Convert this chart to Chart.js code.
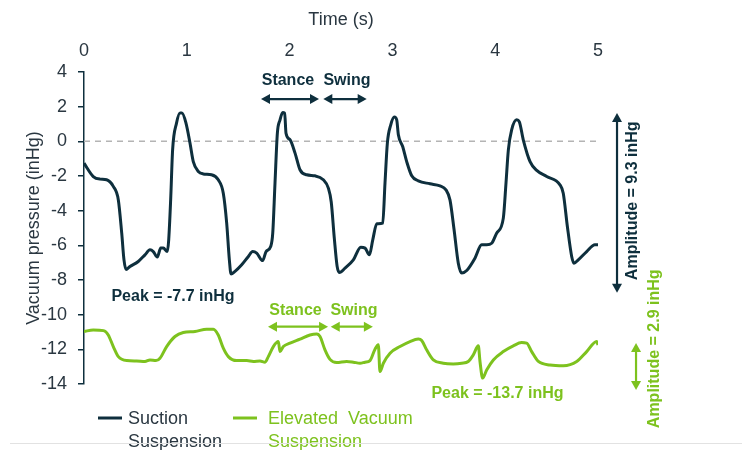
<!DOCTYPE html>
<html>
<head>
<meta charset="utf-8">
<script src="https://cdn.jsdelivr.net/npm/chart.js@4.4.0/dist/chart.umd.min.js"></script>
<style>
  body { margin: 0; background: #fff; }
  canvas { display: block; }
</style>
</head>
<body>
<canvas id="myChart" width="742" height="450"></canvas>
<script>
// data (time in s, pressure in inHg)
const timeTicks = [0, 1, 2, 3, 4, 5];
const suctionTime = [0, 0.09, 0.156, 0.22, 0.285, 0.334, 0.367, 0.389, 0.409, 0.447, 0.528, 0.593, 0.642, 0.674, 0.713, 0.746, 0.772, 0.81, 0.824, 0.843, 0.862, 0.9, 0.934, 0.953, 0.992, 1.031, 1.063, 1.112, 1.16, 1.24, 1.306, 1.355, 1.388, 1.414, 1.43, 1.469, 1.534, 1.599, 1.641, 1.68, 1.738, 1.771, 1.816, 1.836, 1.858, 1.881, 1.907, 1.933, 1.952, 1.965, 2.004, 2.053, 2.101, 2.166, 2.247, 2.328, 2.377, 2.405, 2.435, 2.462, 2.484, 2.539, 2.62, 2.692, 2.734, 2.776, 2.809, 2.848, 2.906, 2.928, 2.951, 2.984, 3.019, 3.042, 3.058, 3.1, 3.139, 3.188, 3.252, 3.366, 3.463, 3.521, 3.56, 3.6, 3.641, 3.674, 3.723, 3.803, 3.868, 3.917, 3.966, 4.014, 4.079, 4.105, 4.128, 4.16, 4.209, 4.234, 4.273, 4.339, 4.404, 4.501, 4.63, 4.662, 4.702, 4.744, 4.766, 4.808, 4.89, 4.97, 5.0];
const suctionPressure = [-1.26, -2.03, -2.18, -2.22, -2.6, -3.38, -5.3, -6.84, -7.4, -7.22, -6.93, -6.55, -6.26, -6.36, -6.68, -6.16, -6.16, -6.36, -5.68, -3.38, -0.49, 1.05, 1.63, 1.63, 1.05, -0.1, -1.17, -1.74, -1.88, -1.93, -2.22, -2.99, -4.72, -6.84, -7.65, -7.5, -7.12, -6.64, -6.36, -6.45, -6.88, -6.36, -6.07, -5.3, -2.41, 0.47, 1.24, 1.66, 1.63, 0.47, 0.09, -0.68, -1.64, -1.93, -1.99, -2.22, -2.7, -3.5, -5.6, -7.2, -7.57, -7.32, -6.84, -6.11, -6.16, -6.55, -5.68, -4.76, -4.72, -2.41, -0.1, 0.95, 1.4, 1.24, 0.38, -0.3, -1.17, -1.99, -2.28, -2.45, -2.57, -2.8, -3.38, -5.1, -7.03, -7.6, -7.45, -6.74, -5.97, -5.97, -5.88, -5.3, -4.43, -2.41, -0.49, 0.66, 1.24, 1.14, 0.09, -1.17, -1.68, -2.03, -2.51, -2.99, -4.91, -6.64, -7.03, -6.84, -6.36, -5.97, -5.97];
const vacuumTime = [0, 0.09, 0.19, 0.236, 0.285, 0.334, 0.415, 0.512, 0.593, 0.642, 0.7, 0.739, 0.804, 0.885, 0.966, 1.08, 1.193, 1.258, 1.306, 1.355, 1.404, 1.485, 1.583, 1.647, 1.712, 1.761, 1.793, 1.842, 1.89, 1.907, 1.939, 2.004, 2.101, 2.198, 2.263, 2.296, 2.344, 2.393, 2.458, 2.555, 2.62, 2.685, 2.734, 2.782, 2.831, 2.863, 2.879, 2.912, 2.977, 3.074, 3.171, 3.252, 3.285, 3.333, 3.398, 3.495, 3.592, 3.674, 3.738, 3.787, 3.836, 3.852, 3.878, 3.917, 3.982, 4.079, 4.176, 4.257, 4.306, 4.355, 4.42, 4.534, 4.663, 4.793, 4.89, 4.987, 5.0];
const vacuumPressure = [-10.97, -10.88, -10.92, -11.17, -11.84, -12.42, -12.65, -12.67, -12.7, -12.61, -12.65, -12.51, -11.84, -11.26, -11.03, -10.97, -10.84, -10.84, -11.17, -11.93, -12.42, -12.65, -12.65, -12.7, -12.67, -12.74, -12.42, -11.84, -11.55, -12.13, -11.84, -11.64, -11.41, -11.17, -11.11, -11.26, -12.03, -12.58, -12.76, -12.7, -12.74, -12.8, -12.74, -12.65, -11.99, -11.74, -13.28, -12.8, -12.22, -11.84, -11.55, -11.41, -11.49, -12.03, -12.61, -12.8, -12.84, -12.8, -12.7, -12.32, -11.8, -12.7, -13.66, -13.19, -12.61, -12.13, -11.8, -11.61, -11.64, -12.13, -12.7, -12.9, -12.94, -12.7, -12.13, -11.55, -11.75];
const seriesNames = [['Suction', 'Suspension'], ['Elevated  Vacuum', 'Suspension']];

const darkColor = '#0e2f3d';
const greenColor = '#7dc21e';
const textColor = '#2a3741';
const fontFamily = "'Liberation Sans', Arial, sans-serif";

function toPoints(ts, vs) {
    return ts.map((t, i) => ({ x: t, y: vs[i] }));
}

function arrow(ctx, x1, y1, x2, y2, color) {
    const a = Math.atan2(y2 - y1, x2 - x1);
    const head = 9, half = 5;
    ctx.save();
    ctx.strokeStyle = color;
    ctx.fillStyle = color;
    ctx.lineWidth = 2.2;
    ctx.beginPath();
    ctx.moveTo(x1 + Math.cos(a) * 4, y1 + Math.sin(a) * 4);
    ctx.lineTo(x2 - Math.cos(a) * 4, y2 - Math.sin(a) * 4);
    ctx.stroke();
    const tip = (x, y, ang) => {
        ctx.beginPath();
        ctx.moveTo(x, y);
        ctx.lineTo(x - head * Math.cos(ang) + half * Math.sin(ang), y - head * Math.sin(ang) - half * Math.cos(ang));
        ctx.lineTo(x - head * Math.cos(ang) - half * Math.sin(ang), y - head * Math.sin(ang) + half * Math.cos(ang));
        ctx.closePath();
        ctx.fill();
    };
    tip(x2, y2, a);
    tip(x1, y1, a + Math.PI);
    ctx.restore();
}

function label(ctx, text, x, y, color, rotate) {
    ctx.save();
    ctx.fillStyle = color;
    ctx.font = 'bold 16px ' + fontFamily;
    ctx.textAlign = 'center';
    ctx.textBaseline = 'middle';
    ctx.translate(x, y);
    if (rotate) ctx.rotate(-Math.PI / 2);
    ctx.fillText(text, 0, 0);
    ctx.restore();
}

// annotations, legend and footer rule
const overlay = {
    id: 'overlay',
    afterDraw(chart) {
        const { ctx, scales: { x, y } } = chart;
        const px = t => x.getPixelForValue(t);
        const py = v => y.getPixelForValue(v);

        // suction: stance / swing
        label(ctx, 'Stance', px(1.984), py(3.49), darkColor);
        label(ctx, 'Swing', px(2.558), py(3.49), darkColor);
        arrow(ctx, px(1.722), py(2.44), px(2.286), py(2.44), darkColor);
        arrow(ctx, px(2.328), py(2.44), px(2.75), py(2.44), darkColor);
        label(ctx, 'Peak = -7.7 inHg', px(0.866), py(-8.97), darkColor);

        // elevated vacuum: stance / swing
        label(ctx, 'Stance', px(2.057), py(-9.76), greenColor);
        label(ctx, 'Swing', px(2.626), py(-9.76), greenColor);
        arrow(ctx, px(1.79), py(-10.69), px(2.374), py(-10.69), greenColor);
        arrow(ctx, px(2.4), py(-10.69), px(2.81), py(-10.69), greenColor);
        label(ctx, 'Peak = -13.7 inHg', px(4.022), py(-14.53), greenColor);

        // amplitudes
        arrow(ctx, px(5.185), py(1.64), px(5.185), py(-8.74), darkColor);
        label(ctx, 'Amplitude = 9.3 inHg', px(5.34), py(-3.43), darkColor, true);
        arrow(ctx, px(5.37), py(-11.64), px(5.37), py(-14.34), greenColor);
        label(ctx, 'Amplitude = 2.9 inHg', px(5.55), py(-11.97), greenColor, true);

        // legend
        const legendX = [[98, 128], [233, 268]];
        const colors = [darkColor, greenColor];
        ctx.save();
        ctx.font = '18px ' + fontFamily;
        ctx.textBaseline = 'middle';
        seriesNames.forEach((lines, i) => {
            ctx.strokeStyle = colors[i];
            ctx.lineWidth = 3;
            ctx.beginPath();
            ctx.moveTo(legendX[i][0], 418);
            ctx.lineTo(legendX[i][0] + 24, 418);
            ctx.stroke();
            ctx.fillStyle = i === 0 ? textColor : greenColor;
            lines.forEach((ln, j) => ctx.fillText(ln, legendX[i][1], 419 + j * 23));
        });
        // faint rule at the bottom
        ctx.strokeStyle = '#e2e2e2';
        ctx.lineWidth = 1;
        ctx.beginPath();
        ctx.moveTo(10, 443.5);
        ctx.lineTo(742, 443.5);
        ctx.stroke();
        ctx.restore();
    }
};

const config = {
    type: 'line',
    data: {
        datasets: [
            {
                label: seriesNames[0].join(' '),
                data: toPoints(suctionTime, suctionPressure),
                borderColor: darkColor,
                borderWidth: 3,
                pointRadius: 0,
                cubicInterpolationMode: 'monotone',
                order: 1
            },
            {
                label: seriesNames[1].join(' '),
                data: toPoints(vacuumTime, vacuumPressure),
                borderColor: greenColor,
                borderWidth: 3,
                pointRadius: 0,
                cubicInterpolationMode: 'monotone',
                order: 1
            },
            {
                label: 'zero',
                data: [{ x: timeTicks[0], y: 0 }, { x: timeTicks[timeTicks.length - 1], y: 0 }],
                borderColor: '#b4b4b4',
                borderWidth: 1.5,
                borderDash: [6, 5],
                pointRadius: 0,
                order: 2
            }
        ]
    },
    options: {
        responsive: false,
        animation: false,
        devicePixelRatio: 1,
        layout: { padding: { left: 0, right: 144, top: 0, bottom: 66 } },
        plugins: { legend: { display: false }, tooltip: { enabled: false } },
        scales: {
            x: {
                type: 'linear',
                position: 'top',
                min: 0,
                max: 5,
                afterBuildTicks: s => { s.ticks = timeTicks.map(v => ({ value: v })); },
                afterFit: s => { s.height = 72; },
                ticks: { color: textColor, font: { size: 18, family: fontFamily }, padding: 10 },
                grid: { display: false, drawTicks: false },
                border: { display: false },
                title: {
                    display: true,
                    text: 'Time (s)',
                    color: textColor,
                    font: { size: 18, family: fontFamily },
                    padding: { top: 9, bottom: 0 }
                }
            },
            y: {
                min: -14,
                max: 4,
                afterFit: s => { s.width = 84; },
                ticks: { stepSize: 2, color: textColor, font: { size: 18, family: fontFamily }, padding: 11 },
                grid: { drawOnChartArea: false, drawTicks: true, tickLength: 6, color: darkColor, lineWidth: 1.5 },
                border: { display: true, color: darkColor, width: 1.5 },
                title: {
                    display: true,
                    text: 'Vacuum pressure (inHg)',
                    color: textColor,
                    font: { size: 18, family: fontFamily },
                    padding: { top: 23, bottom: 0 }
                }
            }
        }
    },
    plugins: [overlay]
};

var myChart = new Chart(document.getElementById('myChart'), config);
</script>
</body>
</html>
